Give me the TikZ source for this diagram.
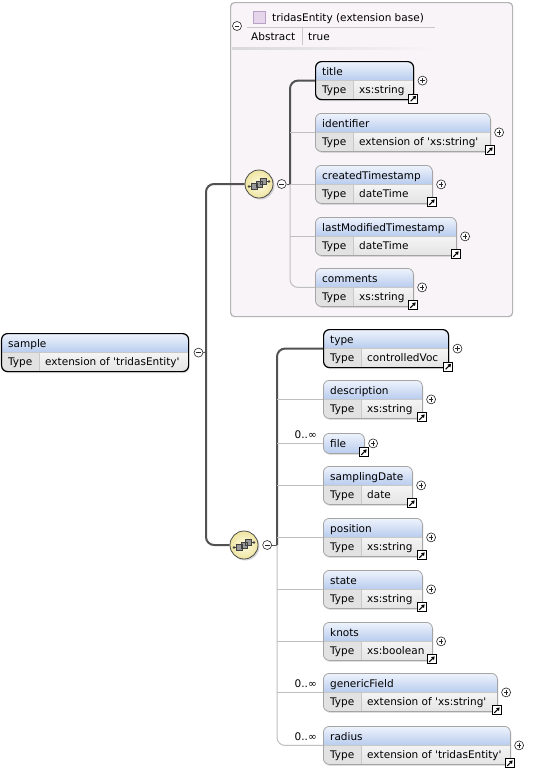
\documentclass[tikz,border=0pt]{standalone}
\usepackage{fontspec}
\setmainfont{DejaVu Sans}
\usetikzlibrary{positioning,shadows,arrows.meta}

\definecolor{headtop}{RGB}{238,243,252}
\definecolor{headbot}{RGB}{184,204,238}
\definecolor{rowfill}{RGB}{244,244,244}
\definecolor{rowbot}{RGB}{228,228,228}
\definecolor{cellfill}{RGB}{226,226,226}
\definecolor{gridline}{RGB}{200,200,200}
\definecolor{optborder}{RGB}{165,165,165}
\definecolor{basefill}{RGB}{248,244,248}
\definecolor{baseborder}{RGB}{180,180,180}
\definecolor{seqin}{RGB}{255,252,228}
\definecolor{seqout}{RGB}{238,228,160}
\definecolor{lavfill}{RGB}{230,214,236}
\definecolor{lavborder}{RGB}{185,160,198}

\newcommand{\xsdelement}[6][optional]{%
  \node[elem, #1, minimum width=#4pt] (#2) at (#3) {};
  \node[txt] (#2-name) at ([xshift=7pt, yshift=-14.5pt]#2.north west) {#5};
  \node[txt] (#2-key) at ([xshift=7pt, yshift=-32.5pt]#2.north west) {Type};
  \node[txt] (#2-val) at ([xshift=44pt, yshift=-32.5pt]#2.north west) {#6};
  \node[plusbtn, right=3.5pt of #2] (#2-plus) {};
  \node[linkbox] (#2-link) at ([xshift=-1pt, yshift=1.5pt]#2.south east) {};
}

\begin{document}
\begin{tikzpicture}[x=1pt, y=-1pt,
    font=\fontsize{10.5}{12.5}\selectfont,
    txt/.style={anchor=base west, inner sep=0pt},
    card/.style={anchor=base east, inner sep=0pt},
    elem/.style={rectangle, anchor=north west, rounded corners=6pt,
      minimum height=38pt, inner sep=0pt,
      drop shadow={shadow xshift=1pt, shadow yshift=-1.5pt, opacity=.25},
      path picture={
        \begin{scope}[sharp corners]
        \shade[top color=headtop, bottom color=headbot]
          (path picture bounding box.north west) rectangle ([yshift=-19pt]path picture bounding box.north east);
        \shade[top color=rowfill, bottom color=rowbot]
          ([yshift=-19pt]path picture bounding box.north west) rectangle (path picture bounding box.south east);
        \fill[cellfill]
          ([yshift=-19pt]path picture bounding box.north west) rectangle ([xshift=38pt]path picture bounding box.south west);
        \draw[gridline, line width=.6pt]
          ([yshift=-19pt]path picture bounding box.north west) -- ([yshift=-19pt]path picture bounding box.north east)
          ([xshift=38pt, yshift=-19pt]path picture bounding box.north west) -- ([xshift=38pt]path picture bounding box.south west);
        \end{scope}}},
    single/.style={minimum height=20pt,
      path picture={\shade[sharp corners, top color=headtop, bottom color=headbot]
        (path picture bounding box.north west) rectangle (path picture bounding box.south east);}},
    optional/.style={draw=optborder, line width=.8pt},
    required/.style={draw=black, line width=1.2pt},
    plusbtn/.style={circle, draw=black!85, fill=white, line width=.6pt, minimum size=9pt, inner sep=0pt,
      path picture={\draw[line width=.7pt]
        ([xshift=-2.3pt]path picture bounding box.center) -- ([xshift=2.3pt]path picture bounding box.center)
        ([yshift=-2.3pt]path picture bounding box.center) -- ([yshift=2.3pt]path picture bounding box.center);}},
    minusbtn/.style={circle, draw=black!85, fill=white, line width=.6pt, minimum size=9pt, inner sep=0pt,
      path picture={\draw[line width=.7pt]
        ([xshift=-2.3pt]path picture bounding box.center) -- ([xshift=2.3pt]path picture bounding box.center);}},
    linkbox/.style={rectangle, draw=black, fill=white, line width=.7pt, minimum size=9pt, inner sep=0pt,
      path picture={\draw[line width=1.1pt, -{Triangle[length=3.2pt, width=3.8pt]}]
        ([shift={(-2.6pt,-2.6pt)}]path picture bounding box.center) -- ([shift={(2.9pt,2.9pt)}]path picture bounding box.center);}},
    seqicon/.style={circle, minimum size=28pt, inner sep=0pt, draw=black!70, line width=.8pt,
      inner color=seqin, outer color=seqout,
      drop shadow={shadow xshift=1.5pt, shadow yshift=-1.5pt, opacity=.3},
      path picture={
        \fill[black!75] ([shift={(-10pt,-2.5pt)}]path picture bounding box.center) circle (1.3pt)
          ([shift={(10pt,2.5pt)}]path picture bounding box.center) circle (1.3pt);
        \draw[black!75, line width=.7pt]
          ([shift={(-10pt,-2.5pt)}]path picture bounding box.center) -- ++(6pt,0pt)
          ([shift={(10pt,2.5pt)}]path picture bounding box.center) -- ++(-6pt,0pt);
        \filldraw[fill=black!40, draw=black!75, line width=.5pt]
          ([shift={(-7.5pt,-5.5pt)}]path picture bounding box.center) rectangle ++(6pt,6pt)
          ([shift={(-3pt,-3pt)}]path picture bounding box.center) rectangle ++(6pt,6pt)
          ([shift={(1.5pt,-.5pt)}]path picture bounding box.center) rectangle ++(6pt,6pt);}},
    basebox/.style={rectangle, anchor=north west, draw=baseborder, line width=1.2pt,
      fill=basefill, rounded corners=4pt},
    lavbox/.style={rectangle, minimum size=12pt, inner sep=0pt, fill=lavfill, draw=lavborder, line width=.7pt},
    mustline/.style={draw=black!68, line width=2pt, rounded corners=8pt},
    optline/.style={draw=black!25, line width=1pt, rounded corners=8pt},
    thinline/.style={draw=black!68, line width=1pt}
  ]
  \fill[white] (0,0) rectangle (542,769);
  \useasboundingbox (0,0) rectangle (542,769);

  \node[basebox, minimum width=282pt, minimum height=314pt] (base) at (230,2) {};
  \node[minusbtn] (base-minus) at (237,26) {};
  \node[lavbox] (base-icon) at (259,17) {};
  \node[txt] (base-name) at (272,21) {tridasEntity (extension base)};
  \node[txt] (base-key) at (251,40) {Abstract};
  \node[txt] (base-val) at (308,40) {true};
  \draw[gridline, line width=.8pt] (247,27) -- (435,27) (302,28) -- (302,45);
  \shade[left color=black!15, right color=basefill] (232,47.5) rectangle (435,49);

  \node[elem, required, minimum width=187pt] (sample) at (1,333) {};
  \node[txt] (sample-name) at ([xshift=7pt, yshift=-14.5pt]sample.north west) {sample};
  \node[txt] (sample-key) at ([xshift=7pt, yshift=-32.5pt]sample.north west) {Type};
  \node[txt] (sample-val) at ([xshift=44pt, yshift=-32.5pt]sample.north west) {extension of \textquotesingle tridasEntity\textquotesingle};
  \node[minusbtn, right=4.5pt of sample] (sample-minus) {};

  \node[seqicon] (seqTop) at (259,184) {};
  \node[minusbtn, right=3.5pt of seqTop] (seqTop-minus) {};
  \node[seqicon] (seqBot) at (244,545) {};
  \node[minusbtn, right=4pt of seqBot] (seqBot-minus) {};
  \coordinate (trunk) at (206,352);
  \coordinate (spineA) at (290,184);
  \coordinate (spineB) at (277,545);

  \xsdelement[required]{title}{315,61}{98}{title}{xs:string}
  \xsdelement{identifier}{315,113}{175}{identifier}{extension of \textquotesingle xs:string\textquotesingle}
  \xsdelement{created}{315,165}{117}{createdTimestamp}{dateTime}
  \xsdelement{modified}{315,217}{141}{lastModifiedTimestamp}{dateTime}
  \xsdelement{comments}{315,268}{98}{comments}{xs:string}

  \xsdelement[required]{type}{323,329}{125}{type}{controlledVoc}
  \xsdelement{description}{323,380}{99}{description}{xs:string}
  \node[elem, optional, single, minimum width=41pt] (file) at (323,433) {};
  \node[txt] (file-name) at ([xshift=7pt, yshift=-14.5pt]file.north west) {file};
  \node[plusbtn, right=3.5pt of file] (file-plus) {};
  \node[linkbox] (file-link) at ([xshift=-1pt, yshift=1.5pt]file.south east) {};
  \xsdelement{samplingDate}{323,466}{89}{samplingDate}{date}
  \xsdelement{position}{323,518}{99}{position}{xs:string}
  \xsdelement{state}{323,570}{99}{state}{xs:string}
  \xsdelement{knots}{323,622}{109}{knots}{xs:boolean}
  \xsdelement{genericField}{323,673}{174}{genericField}{extension of \textquotesingle xs:string\textquotesingle}
  \xsdelement{radius}{323,726}{187}{radius}{extension of \textquotesingle tridasEntity\textquotesingle}

  \node[card] (file-card) at ([xshift=-6pt, yshift=4.5pt]file.west) {0..∞};
  \node[card] (genericField-card) at ([xshift=-6pt, yshift=4.5pt]genericField.west) {0..∞};
  \node[card] (radius-card) at ([xshift=-6pt, yshift=4.5pt]radius.west) {0..∞};

  \draw[thinline] (sample-minus.east) -- (trunk);
  \draw[mustline] (trunk) |- (seqTop.west);
  \draw[mustline] (trunk) |- (seqBot.west);

  \draw[thinline] (seqTop-minus.east) -- (spineA);
  \draw[mustline] (spineA) |- (title.west);
  \draw[optline] (spineA) |- (comments.west);
  \draw[optline] (spineA |- identifier.west) -- (identifier.west);
  \draw[optline] (spineA |- created.west) -- (created.west);
  \draw[optline] (spineA |- modified.west) -- (modified.west);

  \draw[thinline] (seqBot-minus.east) -- (spineB);
  \draw[mustline] (spineB) |- (type.west);
  \draw[optline] (spineB) |- (radius.west);
  \draw[optline] (spineB |- description.west) -- (description.west);
  \draw[optline] (spineB |- file.west) -- (file.west);
  \draw[optline] (spineB |- samplingDate.west) -- (samplingDate.west);
  \draw[optline] (spineB |- position.west) -- (position.west);
  \draw[optline] (spineB |- state.west) -- (state.west);
  \draw[optline] (spineB |- knots.west) -- (knots.west);
  \draw[optline] (spineB |- genericField.west) -- (genericField.west);
\end{tikzpicture}
\end{document}
